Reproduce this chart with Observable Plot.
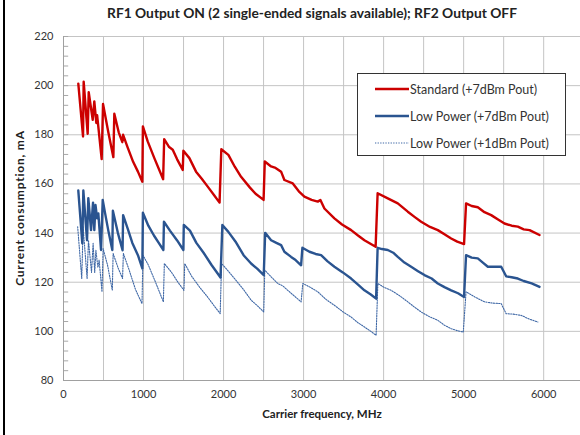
<!DOCTYPE html>
<html>
<head>
<meta charset="utf-8">
<script src="https://cdn.jsdelivr.net/npm/d3@7"></script>
<script src="https://cdn.jsdelivr.net/npm/@observablehq/plot@0.6"></script>
<style>
  html, body { margin: 0; padding: 0; background: #fff; }
  #wrap { position: relative; width: 580px; height: 435px; overflow: hidden; font-family: Lato, "Open Sans", sans-serif; color: #222; }
  #border { position: absolute; left: 3px; top: 0; width: 2px; height: 435px; background: #000; }
  #title { position: absolute; left: 0; top: 4px; width: 624px; text-align: center; font-weight: bold; font-size: 13.8px; }
  #ylab { position: absolute; left: 19px; top: 208px; transform: translate(-50%, -50%) rotate(-90deg); font-weight: bold; font-size: 12px; letter-spacing: 0.8px; white-space: nowrap; }
  #xlab { position: absolute; left: 322px; top: 413px; transform: translate(-50%, -50%); font-weight: bold; font-size: 11.5px; white-space: nowrap; }
  #legend { position: absolute; left: 357px; top: 73px; width: 209px; height: 83px; border: 1px solid #333; background: #fff; box-sizing: border-box; }
  .row { position: absolute; left: 17px; height: 16px; display: flex; align-items: center; font-size: 12.5px; color: #333; white-space: nowrap; }
  .row svg { margin-right: 1px; }
  #chart { position: absolute; left: 0; top: 0; }
</style>
</head>
<body>
<div id="wrap">
  <div id="chart"></div>
  <div id="border"></div>
  <div id="title">RF1 Output ON (2 single-ended signals available); RF2 Output OFF</div>
  <div id="ylab">Current consumption, mA</div>
  <div id="xlab">Carrier frequency, MHz</div>
  <div id="legend"></div>
</div>
<script>
// ---- Data ----
const seriesNames = ["Standard (+7dBm Pout)", "Low Power (+7dBm Pout)", "Low Power (+1dBm Pout)"];

const freqStd = [185,244,252,302,315,365,385,410,420,477,494,560,623,635,690,735,745,800,870,930,985,992,1052,1135,1245,1258,1320,1365,1420,1490,1498,1573,1656,1730,1802,1880,1950,1972,2060,2140,2219,2330,2400,2500,2515,2594,2650,2719,2760,2865,2940,3010,3100,3177,3210,3260,3385,3480,3594,3680,3760,3900,3925,4052,4177,4302,4390,4469,4580,4677,4760,4844,4920,5005,5030,5100,5177,5260,5344,5430,5510,5600,5677,5750,5823,5948];
const valStd = [200.8,179.3,201.6,180.4,197.3,186.1,193.6,184.8,188,170.1,192.5,181,170.9,188.6,181,177,180,175,169,165,160.9,183.4,177.3,170.5,161.9,178.2,175,173.9,170,165.7,173.5,170.5,165,162,158.9,155.5,152.4,174.1,171.8,167,162.9,158.5,156,153.5,169.1,167.1,166.5,165,161.6,160.2,157,154.8,153.5,152.8,153.5,150,146,143.5,141.2,139,137.1,134.4,156.2,154.1,152.1,148.7,146.5,144.6,142.5,141.2,139.5,137.8,136.5,135.5,152.1,151,150.5,148.5,147.3,145.5,143.9,143,142.6,141.5,141.2,139.2];

const freqLP7 = [185,235,248,294,310,344,369,385,400,420,435,469,490,520,560,610,617,680,738,745,800,860,930,985,992,1060,1130,1190,1248,1255,1330,1420,1498,1503,1580,1660,1750,1850,1962,1985,2060,2150,2250,2344,2420,2502,2520,2594,2660,2719,2760,2844,2900,2969,2985,3073,3150,3219,3300,3385,3490,3594,3680,3760,3840,3906,3925,3980,4052,4120,4177,4260,4344,4430,4510,4600,4677,4760,4844,4930,5005,5030,5100,5177,5240,5302,5380,5469,5531,5600,5677,5750,5850,5948];
const valLP7 = [157.3,135.8,157.3,137.1,154.2,141.2,152.4,141.2,151.4,146,148,133.1,153.5,148,141,133.1,149.1,140,133,147.3,142,136,131,125.6,148.3,143,139,136,133.1,144.6,141,137,133.1,143.3,141,136,132,127,121.9,143.3,140.5,136.5,131,127.6,125.5,122.9,140.1,137.1,136,135.1,132.4,130.3,129,126.9,134,132.4,131.5,131,128.5,126.3,124,121.5,119,116.7,115,113.3,134,133.5,133.1,132,130.3,128,126.3,124.5,122.9,121.5,119.5,118,116.7,115.5,114,131,130,129.7,128,126.3,126.3,126.3,122.4,122,121.5,120.5,119.5,118.1];

const freqLP1 = [177,228,245,295,312,350,370,390,405,430,445,481,495,550,610,620,680,738,748,820,900,981,993,1060,1150,1248,1260,1350,1430,1505,1515,1600,1700,1800,1880,1958,1975,2060,2150,2250,2344,2420,2502,2515,2600,2677,2740,2802,2880,2969,2990,3080,3177,3280,3385,3490,3594,3680,3760,3840,3906,3928,4000,4094,4200,4302,4380,4469,4570,4677,4760,4844,4920,4995,5030,5140,5260,5360,5469,5531,5620,5719,5820,5927];
const valLP1 = [142.6,121.5,142.6,121.5,137.1,124,135.8,124,133,126,129,116.1,133.7,127,116.7,131.7,126,121.5,131.7,125,117,111.3,131,127,120,112,127.6,124,120,116.7,127.6,122.5,118,114,110.5,107.2,127.6,124.5,121,117,112.7,110.5,107.9,124.9,122,119.5,118.5,116.7,114.5,112,119.5,118,116.1,113,110.6,108,105.8,103.5,101.8,100,98.4,119.5,118,116.7,114.5,112,110,107.9,106,104.5,102.5,101.1,100.3,99.7,116.1,114,112,111.5,111.3,107.2,107,106.5,105,103.8];

const xTicks = [0,1000,2000,3000,4000,5000,6000];
const xGrid = [0,500,1000,1500,2000,2500,3000,3500,4000,4500,5000,5500,6000];
const yTicks = [80,100,120,140,160,180,200,220];
const yMinor = d3.range(80, 221, 4);

const colors = ["#CC0000", "#2A5490", "#3F68A6"];

const rows = (fs, vs, s) => fs.map((f, i) => ({f, v: vs[i], s}));
const dStd = rows(freqStd, valStd, seriesNames[0]);
const dLP7 = rows(freqLP7, valLP7, seriesNames[1]);
const dLP1 = rows(freqLP1, valLP1, seriesNames[2]);

const chart = Plot.plot({
  width: 580,
  height: 435,
  marginTop: 36,
  marginBottom: 55,
  marginLeft: 63,
  marginRight: 0,
  style: {fontFamily: "Lato, 'Open Sans', sans-serif", fontSize: "11px", color: "#333", background: "transparent"},
  x: {domain: [0, 6460], label: null},
  y: {domain: [80, 220], label: null},
  marks: [
    Plot.ruleX(xGrid, {stroke: "#c4c4c4", strokeWidth: 1}),
    Plot.ruleY(yTicks, {stroke: "#c4c4c4", strokeWidth: 1}),
    Plot.ruleY(yMinor, {x1: 0, x2: 65, stroke: "#a8a8a8", strokeWidth: 1}),
    Plot.ruleX([0], {stroke: "#a0a0a0", strokeWidth: 1}),
    Plot.ruleY([80], {stroke: "#a0a0a0", strokeWidth: 1}),
    Plot.line(dLP1, {x: "f", y: "v", stroke: colors[2], strokeWidth: 1.1, strokeDasharray: "1.3,1.3"}),
    Plot.line(dLP7, {x: "f", y: "v", stroke: colors[1], strokeWidth: 2.4, strokeLinejoin: "round"}),
    Plot.line(dStd, {x: "f", y: "v", stroke: colors[0], strokeWidth: 2.4, strokeLinejoin: "round"}),
    Plot.axisX({ticks: xTicks, tickSize: 0, tickPadding: 10, label: null, tickFormat: d => String(d)}),
    Plot.axisY({ticks: yTicks, tickSize: 0, tickPadding: 10, label: null, tickFormat: d => String(d)})
  ]
});
document.getElementById("chart").appendChild(chart);

// Legend
const legend = document.getElementById("legend");
const rowTops = [7, 34, 61];
const dashes = [null, null, "1.3,1.3"];
const widths = [2.4, 2.4, 1.1];
seriesNames.forEach((name, i) => {
  const row = document.createElement("div");
  row.className = "row";
  row.style.top = rowTops[i] + "px";
  const svg = d3.create("svg").attr("width", 34).attr("height", 16);
  svg.append("line").attr("x1", 0).attr("x2", 34).attr("y1", 8).attr("y2", 8)
    .attr("stroke", colors[i]).attr("stroke-width", widths[i])
    .attr("stroke-dasharray", dashes[i]);
  row.appendChild(svg.node());
  const span = document.createElement("span");
  span.textContent = name;
  row.appendChild(span);
  legend.appendChild(row);
});
</script>
</body>
</html>
